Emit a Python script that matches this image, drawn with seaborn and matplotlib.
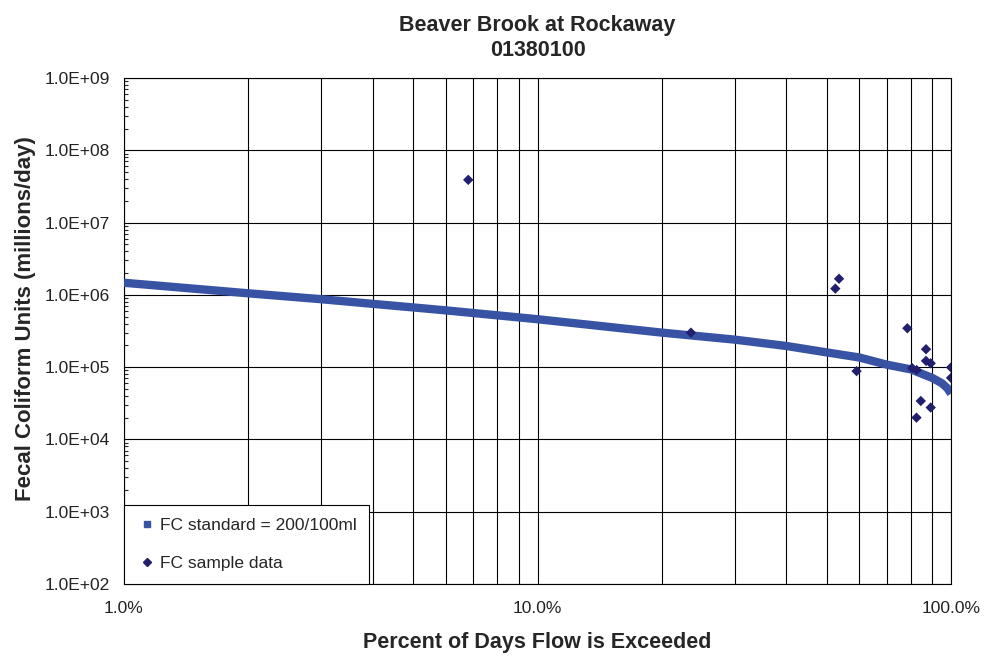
import numpy as np
import pandas as pd
import seaborn as sns
import matplotlib.pyplot as plt
from matplotlib.ticker import FixedLocator, FuncFormatter, LogLocator, NullFormatter

# FC standard load-duration curve (percent exceeded, millions/day)
curve_pct = [1, 2, 3, 4, 5, 6, 7, 10, 20, 30, 40, 50, 60, 70, 80, 90, 95, 98, 100]
curve_fc = [1.47e6, 1.05e6, 8.7e5, 7.5e5, 6.7e5, 6.1e5, 5.6e5, 4.6e5, 3.0e5, 2.4e5,
            1.96e5, 1.6e5, 1.36e5, 1.08e5, 9.3e4, 7.1e4, 6.0e4, 5.1e4, 4.3e4]

# FC sample data
sample_pct = [6.8, 23.5, 53.6, 52.5, 59.1, 78.4, 87.0, 87.0, 89.3, 80.5, 82.6,
              100.0, 100.0, 84.5, 89.3, 82.5]
sample_fc = [3.9e7, 3.0e5, 1.67e6, 1.22e6, 8.8e4, 3.45e5, 1.77e5, 1.22e5, 1.13e5,
             9.7e4, 9.1e4, 9.9e4, 7.1e4, 3.4e4, 2.76e4, 2.0e4]

curve = pd.DataFrame({"pct": curve_pct, "fc": curve_fc})
samples = pd.DataFrame({"pct": sample_pct, "fc": sample_fc})

sns.set_style("white")
plt.rcParams['font.family'] = ['Liberation Sans', 'DejaVu Sans']

fig = plt.figure(figsize=(9.84, 6.56), dpi=100)
ax = fig.add_axes([0.126, 0.1098, 0.8405, 0.7713])

sns.lineplot(data=curve, x="pct", y="fc", ax=ax, color="#3953A4", linewidth=6,
             solid_capstyle="butt", label="_nolegend_", zorder=3)
sns.scatterplot(data=samples, x="pct", y="fc", ax=ax, marker="D", s=28,
                color="#22206E", edgecolor="none", zorder=4, label="_nolegend_")

ax.set_xscale("log")
ax.set_yscale("log")
ax.set_xlim(1, 100)
ax.set_ylim(1e2, 1e9)

# grid: every 1..9 on x, decades on y
ax.xaxis.set_major_locator(FixedLocator([1, 10, 100]))
ax.xaxis.set_minor_locator(LogLocator(base=10, subs=np.arange(2, 10)))
ax.xaxis.set_minor_formatter(NullFormatter())
ax.xaxis.set_major_formatter(FuncFormatter(lambda v, p: f"{v:.1f}%"))
ax.yaxis.set_major_locator(LogLocator(base=10, numticks=20))
ax.yaxis.set_minor_locator(LogLocator(base=10, subs=np.arange(2, 10), numticks=20))
ax.yaxis.set_minor_formatter(NullFormatter())
ax.yaxis.set_major_formatter(FuncFormatter(lambda v, p: f"{v:.1E}"))
ax.grid(True, which="major", axis="both", color="black", linewidth=0.8)
ax.grid(True, which="minor", axis="x", color="black", linewidth=0.8)

ax.tick_params(axis="x", which="both", length=0, pad=12, labelsize=12.5, colors="#222222")
ax.tick_params(axis="y", which="major", length=0, pad=10, labelsize=12.5, colors="#222222")
ax.tick_params(axis="y", which="minor", direction="in", length=3, width=0.8, left=True)
for s in ax.spines.values():
    s.set_color("black")
    s.set_linewidth(0.8)

ax.set_xlabel("Percent of Days Flow is Exceeded", fontsize=15.5, fontweight="bold", labelpad=12)
ax.set_ylabel("Fecal Coliform Units (millions/day)", fontsize=16, fontweight="bold", labelpad=8)
ax.yaxis.set_label_coords(-0.106, 0.525)
ax.set_title("Beaver Brook at Rockaway\n01380100", fontsize=15.5, fontweight="bold",
             linespacing=1.25, pad=16)

# legend handles
h1 = plt.Line2D([], [], linestyle="none", marker="s", markersize=5, color="#3953A4")
h2 = plt.Line2D([], [], linestyle="none", marker="D", markersize=4, color="#22206E")
leg = ax.legend([h1, h2], ["FC standard = 200/100ml", "FC sample data"],
                loc="lower left", bbox_to_anchor=(0, 0), borderaxespad=0,
                fontsize=12.5, frameon=True, fancybox=False, framealpha=1,
                labelspacing=1.3, handletextpad=0.1, handlelength=1.2, borderpad=0.75)
leg.get_frame().set_edgecolor("black")
leg.get_frame().set_linewidth(0.8)
leg.set_zorder(5)

fig.savefig("out.png", dpi=100)
